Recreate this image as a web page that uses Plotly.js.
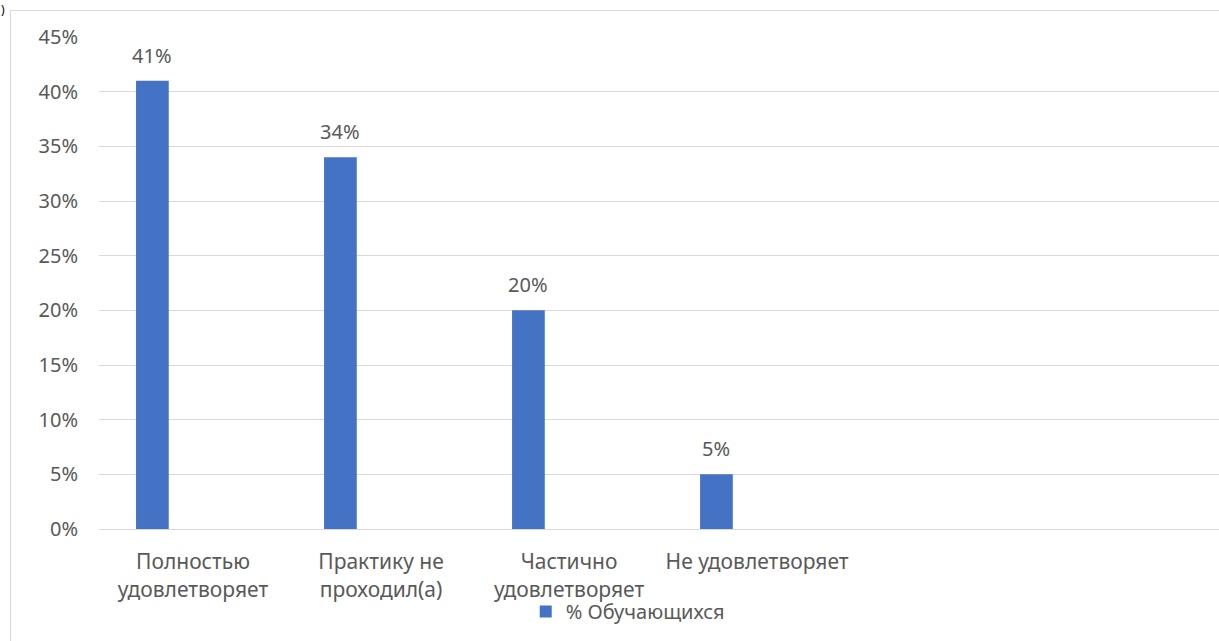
<!DOCTYPE html>
<html>
<head>
<meta charset="utf-8">
<script src="https://cdn.plot.ly/plotly-3.0.1.min.js"></script>
<style>
  html, body { margin: 0; padding: 0; background: #ffffff; overflow: hidden; }
  #wrap { position: relative; width: 1219px; height: 641px; }
  #frame { position: absolute; left: 10px; top: 10px; width: 1300px; height: 700px;
           border-left: 1px solid #d9d9d9; border-top: 1px solid #d9d9d9; pointer-events: none; }
  #chart { position: absolute; left: 0; top: 0; width: 1219px; height: 641px; }
</style>
</head>
<body>
<div id="wrap">
  <div id="chart"></div>
  <div id="frame"></div>
</div>
<script>
// ---- data ----
const categories = ['Полностью удовлетворяет', 'Практику не проходил(а)', 'Частично удовлетворяет', 'Не удовлетворяет'];
const categoryLabels = ['Полностью<br>удовлетворяет', 'Практику не<br>проходил(а)', 'Частично<br>удовлетворяет', 'Не удовлетворяет'];
const values = [0.41, 0.34, 0.20, 0.05];
const valueLabels = ['41%', '34%', '20%', '5%'];
const seriesName = '% Обучающихся';
const yTickVals = [0, 0.05, 0.10, 0.15, 0.20, 0.25, 0.30, 0.35, 0.40, 0.45];
const yTickText = ['0%', '5%', '10%', '15%', '20%', '25%', '30%', '35%', '40%', '45%'];

// ---- style ----
const FONT = 'Noto Sans, Open Sans, Liberation Sans, sans-serif';
const TXT = '#595959';
const BAR = '#4472C4';
const GRID = '#d9d9d9';
const barOffset = -0.303;
const barWidth = 0.174;
const pxPerCat = 188;

const trace = {
  type: 'bar',
  x: categories,
  y: values,
  name: seriesName,
  offset: barOffset,
  width: barWidth,
  marker: { color: BAR },
  showlegend: true,
  hoverinfo: 'skip'
};

const annotations = categories.map((c, i) => ({
  x: c, y: values[i], xref: 'x', yref: 'y',
  text: valueLabels[i], showarrow: false,
  xanchor: 'center', yanchor: 'bottom',
  xshift: (barOffset + barWidth / 2) * pxPerCat,
  yshift: 10,
  font: { family: FONT, size: 20, color: TXT }
}));
annotations.push({
  xref: 'paper', yref: 'paper', x: -0.0884, y: 1.0752, xanchor: 'left', yanchor: 'top',
  text: ')', showarrow: false, borderpad: 0,
  font: { family: FONT, size: 12, color: '#000' }
});

const layout = {
  width: 1219, height: 641,
  margin: { l: 99, r: 0, t: 37, b: 112, pad: 0 },
  paper_bgcolor: 'rgba(0,0,0,0)',
  plot_bgcolor: 'rgba(0,0,0,0)',
  font: { family: FONT, size: 20, color: TXT },
  xaxis: {
    type: 'category',
    range: [-0.5, 5.457],
    tickmode: 'array',
    tickvals: categories,
    ticktext: categoryLabels,
    showgrid: false,
    showline: true, linecolor: GRID, linewidth: 1,
    ticks: '', ticklabelstandoff: 14,
    tickfont: { family: FONT, size: 21, color: TXT },
    zeroline: false, fixedrange: true, automargin: false
  },
  yaxis: {
    range: [0, 0.45],
    tickmode: 'array',
    tickvals: yTickVals,
    ticktext: yTickText,
    showgrid: true, gridcolor: GRID, gridwidth: 1,
    zeroline: false, showline: false,
    ticks: '', ticklabelstandoff: 20,
    tickfont: { family: FONT, size: 20, color: TXT },
    fixedrange: true, automargin: false
  },
  legend: {
    orientation: 'h',
    x: 0.381, xanchor: 'left',
    y: -0.128, yanchor: 'top',
    font: { family: FONT, size: 20, color: TXT },
    bgcolor: 'rgba(0,0,0,0)'
  },
  annotations: annotations,
  showlegend: true
};

Plotly.newPlot('chart', [trace], layout, { displayModeBar: false, staticPlot: true });
</script>
</body>
</html>
